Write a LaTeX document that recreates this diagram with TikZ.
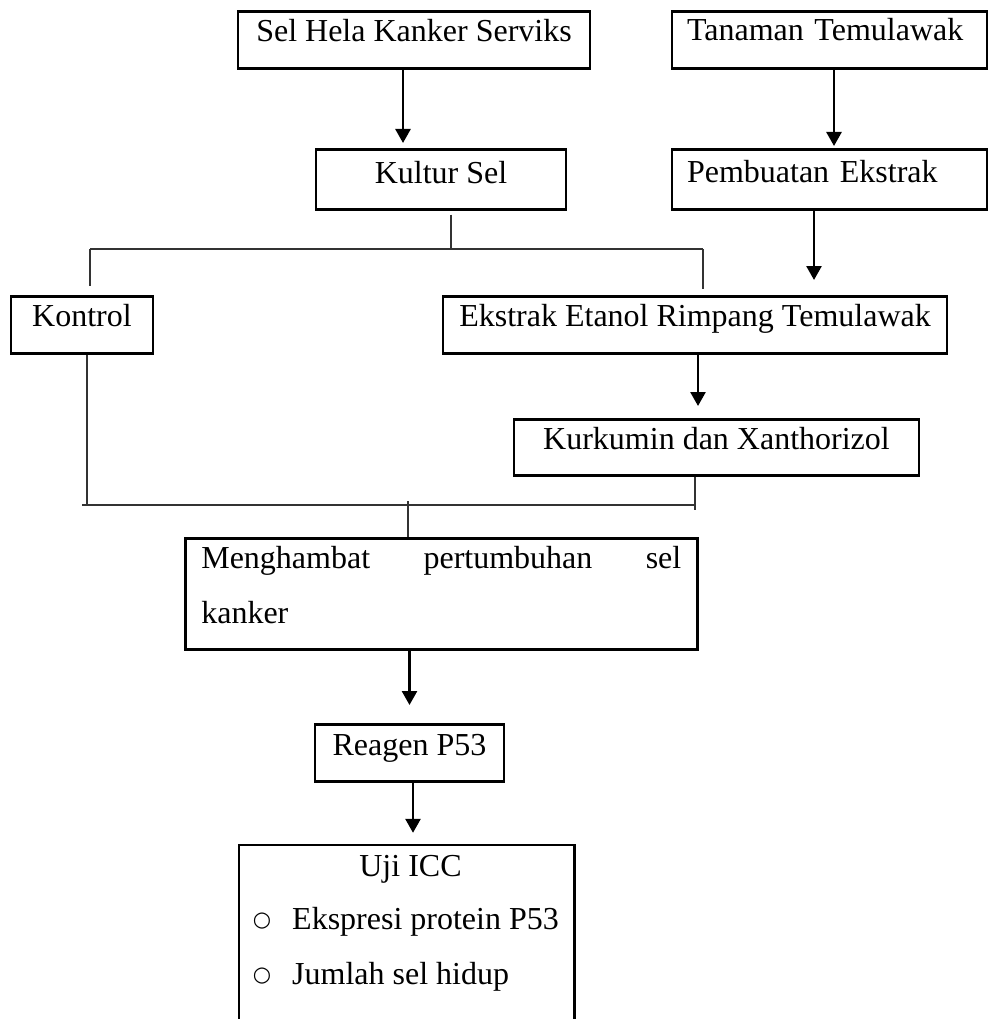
\documentclass[tikz,border=0pt]{standalone}
\usepackage{fontspec}
\setmainfont{Liberation Serif}
\newfontfamily\bulletfont{DejaVu Sans}
\usepackage{tikz}
\usetikzlibrary{arrows.meta}
\tikzset{>={Triangle[width=15pt,length=14pt]}}

\begin{document}
\begin{tikzpicture}[x=1pt, y=-1pt, font=\fontsize{32pt}{55pt}\selectfont]
	\tikzstyle{box}=[draw=black, line width=2.6pt, anchor=north, inner xsep=0pt, inner ysep=0pt]
	\tikzstyle{flow}=[->, line width=2.6pt]
	\tikzstyle{link}=[line width=1.3pt, black!80]
	\tikzstyle{bullet}=[anchor=base, inner sep=0pt, font=\bulletfont\fontsize{21pt}{21pt}\selectfont]

	\useasboundingbox (0,0) rectangle (988,1019);

	% left column: cells
	\node[box, minimum width=352pt, text height=30pt, text depth=27pt] (sel-hela) at (414,10) {Sel Hela Kanker Serviks};
	\node[box, minimum width=250pt, text height=34pt, text depth=26pt] (kultur-sel) at (441,148) {Kultur Sel};
	\node[box, minimum width=142pt, text height=30pt, text depth=27pt] (kontrol) at (82,295) {Kontrol};

	% right column: plant
	\node[box, inner xsep=15pt, text width=285pt, align=left, text height=29pt, text depth=28pt] (tanaman) at (829.5,10) {Tanaman Temulawak};
	\node[box, inner xsep=15pt, text width=285pt, align=left, text height=33pt, text depth=27pt] (pembuatan) at (829.5,148) {Pembuatan Ekstrak};
	\node[box, minimum width=504pt, text height=30pt, text depth=27pt] (ekstrak) at (695,295) {Ekstrak Etanol Rimpang Temulawak};
	\node[box, minimum width=405pt, text height=30pt, text depth=26pt] (kurkumin) at (716.5,418) {Kurkumin dan Xanthorizol};

	% result
	\node[box, anchor=north west, inner xsep=16pt, text width=480pt, align=left] (hambat) at (184,537)
		{\rule{0pt}{30pt}Menghambat\hfill pertumbuhan\hfill sel\\kanker\rule[-26pt]{0pt}{26pt}};
	\node[box, minimum width=189pt, text height=31pt, text depth=26pt] (reagen) at (409.5,723) {Reagen P53};
	\node[anchor=base, inner sep=0pt, minimum width=335pt, text height=31pt] (uji) at (406.5,876) {\hspace*{8pt}Uji ICC};
	\draw[line width=2.6pt] ([yshift=-180pt]uji.north west) -- (uji.north west) -- (uji.north east) -- ([yshift=-180pt]uji.north east);

	\node[bullet] (bullet-1) at (262,926) {○};
	\node[anchor=base west, inner sep=0pt] (ekspresi) at (292,929) {Ekspresi protein P53};
	\node[bullet] (bullet-2) at (262,981) {○};
	\node[anchor=base west, inner sep=0pt] (jumlah) at (292,984) {Jumlah sel hidup};

	% arrows
	\coordinate (hela-out) at ([xshift=-11pt]sel-hela.south);
	\coordinate (tanaman-out) at ([xshift=4.5pt]tanaman.south);
	\coordinate (pembuatan-out) at ([xshift=-15.5pt]pembuatan.south);
	\coordinate (ekstrak-out) at ([xshift=3pt]ekstrak.south);
	\coordinate (reagen-out) at ([xshift=3.5pt]reagen.south);

	\draw[flow, shorten >=5pt] (hela-out) -- (hela-out |- kultur-sel.north);
	\draw[flow, shorten >=2pt] (tanaman-out) -- (tanaman-out |- pembuatan.north);
	\draw[flow, shorten >=15pt] (pembuatan-out) -- (pembuatan-out |- ekstrak.north);
	\draw[flow, shorten >=12pt] (ekstrak-out) -- (ekstrak-out |- kurkumin.north);
	\draw[flow, shorten >=18pt] (reagen.north |- hambat.south) -- (reagen.north);
	\draw[flow, shorten >=12pt] (reagen-out) -- (reagen-out |- uji.north);

	% split and merge lines
	\coordinate (kultur-out) at ([xshift=10pt]kultur-sel.south);
	\coordinate (split-left) at (90,249);
	\coordinate (split-right) at (703,249);
	\draw[link, shorten <=4pt] (kultur-out) -- (kultur-out |- split-left);
	\draw[link] (split-left) -- (split-right);
	\draw[link, shorten >=9pt] (split-left) -- (split-left |- kontrol.north);
	\draw[link, shorten >=6pt] (split-right) -- (split-right |- ekstrak.north);

	\coordinate (kontrol-out) at ([xshift=5pt]kontrol.south);
	\coordinate (kurkumin-out) at ([xshift=-21.5pt]kurkumin.south);
	\coordinate (merge-left) at (82,505);
	\coordinate (merge-mid) at (408,505);
	\draw[link] (kontrol-out) -- (kontrol-out |- merge-left);
	\draw[link, shorten >=-5pt] (kurkumin-out) -- (kurkumin-out |- merge-left);
	\draw[link] (merge-left) -- (kurkumin-out |- merge-left);
	\draw[link, shorten <=-4pt] (merge-mid) -- (merge-mid |- hambat.north);
\end{tikzpicture}
\end{document}
